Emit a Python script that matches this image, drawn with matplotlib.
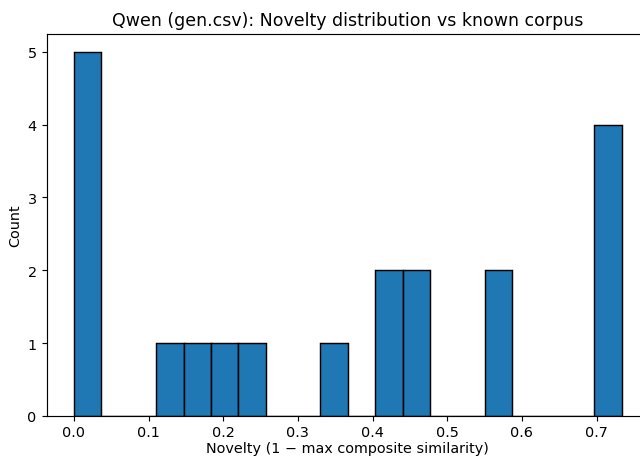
import matplotlib
matplotlib.use("Agg")
import matplotlib.pyplot as plt
import numpy as np

# Histogram: 20 equal bins between min and max novelty
novelty_min = 0.0
novelty_max = 0.7336
counts = [5, 0, 0, 1, 1, 1, 1, 0, 0, 1, 0, 2, 2, 0, 0, 2, 0, 0, 0, 4]

edges = np.linspace(novelty_min, novelty_max, len(counts) + 1)
centers = (edges[:-1] + edges[1:]) / 2

s = 1.04
plt.rcParams['font.size'] = 10 * s
plt.rcParams['axes.linewidth'] = 0.8 * s
plt.rcParams['xtick.major.size'] = 3.5 * s
plt.rcParams['ytick.major.size'] = 3.5 * s
plt.rcParams['xtick.major.width'] = 0.8 * s
plt.rcParams['ytick.major.width'] = 0.8 * s
plt.rcParams['xtick.major.pad'] = 3.0

W, H = 640, 460
fig = plt.figure(figsize=(6.4, 4.6), dpi=100)
left, right, top, bottom = 46.6, 649.0, 34.5, 417.0
ax = fig.add_axes([left / W, 1 - bottom / H, (right - left) / W, (bottom - top) / H])
ax.hist(centers, bins=edges, weights=counts, color="#1f77b4", edgecolor="black", linewidth=1.0 * s)
ax.set_title("Qwen (gen.csv): Novelty distribution vs known corpus")
ax.set_xlabel("Novelty (1 \u2212 max composite similarity)", labelpad=1.5)
ax.set_ylabel("Count")
fig.savefig("out.png", dpi=100)
